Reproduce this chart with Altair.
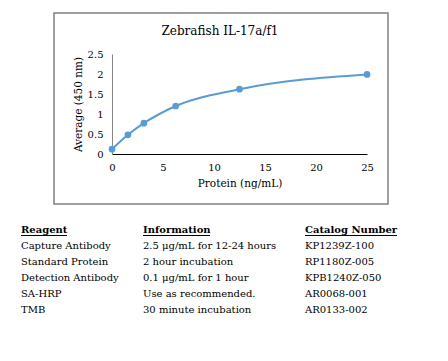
import altair as alt
import pandas as pd

protein = [0, 1.5625, 3.125, 6.25, 12.5, 25]
average = [0.12, 0.48, 0.77, 1.2, 1.62, 1.99]

reagents = ["Capture Antibody", "Standard Protein", "Detection Antibody", "SA-HRP", "TMB"]
information = ["2.5 μg/mL for 12-24 hours", "2 hour incubation", "0.1 μg/mL for 1 hour",
               "Use as recommended.", "30 minute incubation"]
catalog = ["KP1239Z-100", "RP1180Z-005", "KPB1240Z-050", "AR0068-001", "AR0133-002"]
headers = ["Reagent", "Information", "Catalog Number"]

FONT = "DejaVu Serif"
BLUE = "#5b9bd5"

curve = pd.DataFrame({"protein": protein, "average": average})
rows = pd.DataFrame({
    "row": list(range(1, len(reagents) + 1)),
    "reagent": reagents,
    "information": information,
    "catalog": catalog,
})
head = pd.DataFrame({"row": [0], "h0": [headers[0]], "h1": [headers[1]], "h2": [headers[2]]})

xs = alt.X("protein:Q", title="Protein (ng/mL)",
           scale=alt.Scale(domain=[0, 25], nice=False),
           axis=alt.Axis(values=[0, 5, 10, 15, 20, 25], grid=False, ticks=False, tickSize=0,
                         labelFlush=False, domainColor="#000000", labelPadding=8, titlePadding=6,
                         labelFont=FONT, titleFont=FONT, labelFontSize=10, titleFontSize=10.5,
                         titleFontWeight="normal", labelColor="#000", titleColor="#000"))
ys = alt.Y("average:Q", title="Average (450 nm)",
           scale=alt.Scale(domain=[0, 2.5], nice=False),
           axis=alt.Axis(values=[0, 0.5, 1, 1.5, 2, 2.5], format="~g", grid=False, ticks=False,
                         tickSize=0, labelFlush=False, domainColor="#868686", labelPadding=9,
                         titlePadding=4,
                         labelFont=FONT, titleFont=FONT, labelFontSize=10, titleFontSize=10.5,
                         titleFontWeight="normal", labelColor="#000", titleColor="#000"))

line = alt.Chart(curve).mark_line(color=BLUE, strokeWidth=2, interpolate="monotone").encode(x=xs, y=ys)
pts = alt.Chart(curve).mark_point(color=BLUE, filled=True, opacity=1, size=45).encode(x=xs, y=ys)
plot = alt.layer(line, pts)

border = alt.Chart(pd.DataFrame({"k": [0]})).mark_rect(
    fill=None, stroke="#808080", strokeWidth=1.5, clip=False
).encode(x=alt.value(-58), x2=alt.value(276), y=alt.value(-41), y2=alt.value(150))

title = alt.Chart(pd.DataFrame({"t": ["Zebrafish IL-17a/f1"]})).mark_text(
    font=FONT, fontSize=12, align="center", baseline="middle", color="#000"
).encode(text="t:N", x=alt.value(108), y=alt.value(-23))

ry = alt.Y("row:Q", scale=alt.Scale(domain=[0, 5], range=[176, 255.5]), axis=None)
tkw = dict(font=FONT, fontSize=10, align="left", baseline="middle", color="#000")

col0 = alt.Chart(rows).mark_text(**tkw).encode(text="reagent:N", x=alt.value(-91), y=ry)
col1 = alt.Chart(rows).mark_text(**tkw).encode(text="information:N", x=alt.value(31), y=ry)
col2 = alt.Chart(rows).mark_text(**tkw).encode(text="catalog:N", x=alt.value(193), y=ry)
h0 = alt.Chart(head).mark_text(**tkw, fontWeight="bold").encode(text="h0:N", x=alt.value(-91), y=ry)
h1 = alt.Chart(head).mark_text(**tkw, fontWeight="bold").encode(text="h1:N", x=alt.value(31), y=ry)
h2 = alt.Chart(head).mark_text(**tkw, fontWeight="bold").encode(text="h2:N", x=alt.value(193), y=ry)

ul = pd.DataFrame({"k": [0]})
u0 = alt.Chart(ul).mark_rule(color="#000", strokeWidth=1).encode(x=alt.value(-91), x2=alt.value(-45), y=alt.value(181.5))
u1 = alt.Chart(ul).mark_rule(color="#000", strokeWidth=1).encode(x=alt.value(31), x2=alt.value(98), y=alt.value(181.5))
u2 = alt.Chart(ul).mark_rule(color="#000", strokeWidth=1).encode(x=alt.value(193), x2=alt.value(285), y=alt.value(181.5))

chart = alt.layer(
    border, title, plot, col0, col1, col2, h0, h1, h2, u0, u1, u2
).resolve_scale(y="independent").properties(
    width=255, height=100,
    padding={"left": 112, "top": 54, "right": 81, "bottom": 207},
    autosize=alt.AutoSizeParams(type="none"),
    background="white",
).configure_view(stroke=None)

chart.save("out.html", embed_options={"renderer": "svg", "actions": False})
